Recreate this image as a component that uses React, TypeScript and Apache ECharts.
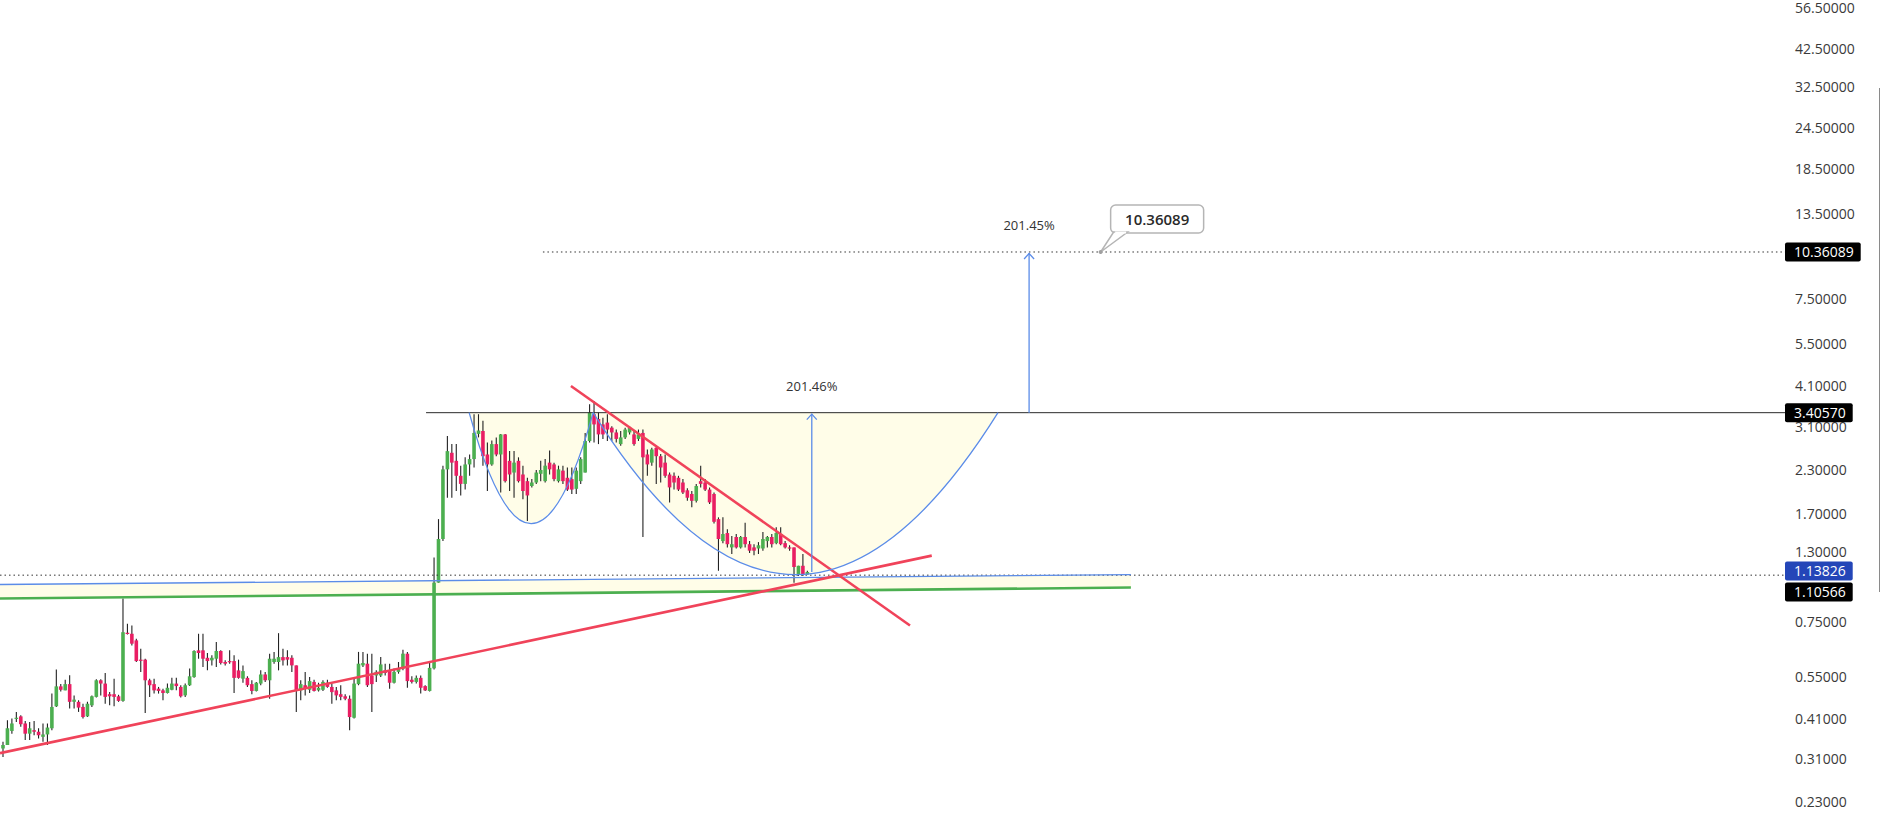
import { useEffect, useRef } from 'react';
import * as echarts from 'echarts';

// ---------- candle data (price units) ----------
const opens = [
  0.333, 0.341, 0.376, 0.410, 0.416, 0.396, 0.369, 0.378, 0.374, 0.361,
  0.367, 0.383, 0.446, 0.512, 0.498, 0.520, 0.460, 0.460, 0.444, 0.416,
  0.449, 0.476, 0.534, 0.522, 0.485, 0.485, 0.478, 0.463, 0.742, 0.737,
  0.704, 0.616, 0.616, 0.534, 0.520, 0.504, 0.498, 0.489, 0.500, 0.522,
  0.510, 0.481, 0.516, 0.546, 0.657, 0.657, 0.624, 0.613, 0.620, 0.654,
  0.606, 0.610, 0.610, 0.572, 0.540, 0.543, 0.520, 0.496, 0.522, 0.556,
  0.534, 0.606, 0.606, 0.627, 0.627, 0.624, 0.592, 0.498, 0.516, 0.500,
  0.528, 0.498, 0.500, 0.525, 0.510, 0.498, 0.485, 0.478, 0.470, 0.412,
  0.520, 0.592, 0.599, 0.552, 0.552, 0.552, 0.572, 0.572, 0.525, 0.566,
  0.579, 0.642, 0.536, 0.528, 0.543, 0.513, 0.496, 0.580, 1.050, 1.420,
  2.300, 2.580, 2.440, 2.200, 2.080, 2.380, 2.470, 2.940, 3.000, 2.550,
  2.380, 2.740, 2.550, 2.930, 2.440, 2.250, 2.440, 2.220, 2.120, 2.050,
  2.100, 2.230, 2.120, 2.410, 2.380, 2.120, 2.280, 2.170, 2.150, 2.010,
  2.120, 2.250, 2.800, 3.370, 3.260, 3.140, 3.180, 3.070, 2.970, 2.740,
  2.870, 2.970, 2.930, 2.840, 2.960, 2.550, 2.410, 2.670, 2.520, 2.410,
  2.220, 2.200, 2.170, 2.100, 1.990, 1.940, 1.850, 2.120, 2.100, 2.000,
  1.940, 1.630, 1.400, 1.480, 1.340, 1.440, 1.340, 1.440, 1.370, 1.340,
  1.330, 1.330, 1.400, 1.440, 1.380, 1.470, 1.380, 1.340, 1.340, 1.110,
  1.180, 1.110,
];
const closes = [
  0.341, 0.383, 0.396, 0.412, 0.394, 0.369, 0.383, 0.374, 0.365, 0.367,
  0.385, 0.444, 0.512, 0.500, 0.520, 0.460, 0.467, 0.442, 0.414, 0.454,
  0.478, 0.534, 0.522, 0.476, 0.478, 0.476, 0.463, 0.745, 0.738, 0.688,
  0.610, 0.613, 0.534, 0.516, 0.498, 0.496, 0.489, 0.507, 0.522, 0.513,
  0.478, 0.516, 0.549, 0.654, 0.645, 0.620, 0.610, 0.624, 0.654, 0.602,
  0.599, 0.605, 0.543, 0.543, 0.569, 0.516, 0.496, 0.525, 0.556, 0.534,
  0.620, 0.620, 0.627, 0.613, 0.616, 0.592, 0.498, 0.520, 0.504, 0.531,
  0.496, 0.507, 0.528, 0.510, 0.492, 0.481, 0.476, 0.470, 0.414, 0.522,
  0.599, 0.602, 0.516, 0.520, 0.566, 0.596, 0.562, 0.525, 0.566, 0.579,
  0.642, 0.531, 0.528, 0.543, 0.507, 0.498, 0.582, 1.050, 1.420, 2.300,
  2.610, 2.410, 2.200, 2.080, 2.380, 2.470, 2.960, 3.010, 2.520, 2.380,
  2.740, 2.550, 2.930, 2.120, 2.220, 2.410, 2.120, 1.980, 1.920, 2.100,
  2.250, 2.290, 2.360, 2.300, 2.150, 2.300, 2.120, 2.000, 2.000, 2.280,
  2.470, 2.800, 3.410, 3.140, 2.930, 2.930, 3.030, 2.970, 2.840, 2.870,
  3.030, 3.070, 2.740, 2.930, 2.500, 2.380, 2.640, 2.520, 2.330, 2.200,
  2.030, 2.100, 2.000, 1.960, 1.890, 1.850, 2.050, 2.080, 2.000, 1.830,
  1.600, 1.420, 1.470, 1.370, 1.370, 1.340, 1.440, 1.370, 1.310, 1.310,
  1.360, 1.420, 1.440, 1.370, 1.480, 1.370, 1.340, 1.330, 1.170, 1.180,
  1.110, 1.130,
];
const lows = [
  0.314, 0.341, 0.369, 0.400, 0.387, 0.353, 0.353, 0.365, 0.357, 0.349,
  0.341, 0.378, 0.444, 0.494, 0.498, 0.439, 0.439, 0.429, 0.410, 0.414,
  0.444, 0.474, 0.481, 0.454, 0.449, 0.446, 0.460, 0.460, 0.733, 0.680,
  0.606, 0.566, 0.426, 0.476, 0.487, 0.487, 0.465, 0.487, 0.498, 0.498,
  0.474, 0.476, 0.513, 0.543, 0.620, 0.585, 0.572, 0.592, 0.585, 0.596,
  0.592, 0.599, 0.489, 0.540, 0.525, 0.510, 0.485, 0.494, 0.516, 0.528,
  0.470, 0.599, 0.572, 0.592, 0.592, 0.566, 0.429, 0.465, 0.481, 0.489,
  0.494, 0.494, 0.496, 0.507, 0.454, 0.465, 0.465, 0.465, 0.378, 0.410,
  0.516, 0.585, 0.510, 0.429, 0.528, 0.546, 0.552, 0.504, 0.522, 0.559,
  0.572, 0.507, 0.522, 0.522, 0.487, 0.496, 0.494, 0.575, 1.050, 1.400,
  1.890, 1.890, 1.980, 1.920, 2.000, 2.200, 2.330, 2.870, 2.360, 1.980,
  2.360, 2.520, 1.960, 2.100, 1.980, 1.890, 2.100, 1.870, 1.610, 2.030,
  2.080, 2.120, 2.100, 2.220, 2.120, 2.100, 2.080, 1.980, 1.940, 1.940,
  2.080, 2.250, 2.770, 2.770, 2.740, 2.840, 2.800, 2.800, 2.770, 2.710,
  2.840, 2.930, 2.710, 2.800, 1.440, 2.200, 2.360, 2.080, 2.100, 2.170,
  1.830, 2.000, 1.980, 1.940, 1.850, 1.770, 1.830, 2.030, 1.980, 1.810,
  1.580, 1.140, 1.380, 1.340, 1.280, 1.330, 1.330, 1.340, 1.290, 1.270,
  1.280, 1.310, 1.340, 1.340, 1.370, 1.360, 1.330, 1.310, 1.050, 1.100,
  1.100, 1.110,
];
const highs = [
  0.349, 0.405, 0.410, 0.429, 0.419, 0.403, 0.400, 0.403, 0.383, 0.396,
  0.396, 0.487, 0.575, 0.520, 0.536, 0.553, 0.481, 0.465, 0.454, 0.460,
  0.481, 0.538, 0.538, 0.562, 0.492, 0.540, 0.483, 0.940, 0.790, 0.780,
  0.712, 0.664, 0.620, 0.540, 0.540, 0.510, 0.504, 0.522, 0.543, 0.543,
  0.516, 0.522, 0.579, 0.657, 0.737, 0.737, 0.645, 0.635, 0.696, 0.657,
  0.613, 0.657, 0.635, 0.616, 0.592, 0.549, 0.534, 0.528, 0.572, 0.566,
  0.642, 0.650, 0.740, 0.664, 0.657, 0.635, 0.592, 0.534, 0.566, 0.546,
  0.536, 0.525, 0.534, 0.536, 0.522, 0.510, 0.516, 0.485, 0.481, 0.543,
  0.650, 0.650, 0.642, 0.642, 0.572, 0.627, 0.599, 0.599, 0.579, 0.606,
  0.660, 0.650, 0.549, 0.552, 0.552, 0.516, 0.610, 1.250, 1.630, 2.360,
  2.900, 2.740, 2.740, 2.360, 2.500, 2.550, 3.370, 3.370, 3.220, 2.770,
  2.810, 2.870, 2.940, 2.940, 2.610, 2.610, 2.500, 2.360, 2.170, 2.150,
  2.290, 2.440, 2.470, 2.620, 2.410, 2.360, 2.360, 2.330, 2.330, 2.330,
  2.500, 2.960, 3.610, 3.690, 3.410, 3.290, 3.370, 3.100, 3.030, 3.000,
  3.070, 3.100, 3.000, 3.030, 3.030, 2.640, 2.670, 2.710, 2.560, 2.550,
  2.250, 2.250, 2.200, 2.150, 2.020, 1.980, 2.080, 2.360, 2.150, 2.030,
  1.960, 1.650, 1.650, 1.520, 1.450, 1.470, 1.450, 1.590, 1.400, 1.370,
  1.390, 1.490, 1.450, 1.470, 1.540, 1.540, 1.400, 1.360, 1.340, 1.180,
  1.280, 1.140,
];

// ---------- price scale ----------
const tickPrices = [56.5, 42.5, 32.5, 24.5, 18.5, 13.5, 7.5, 5.5, 4.1, 3.1, 2.3, 1.7, 1.3, 0.8, 0.55, 0.41, 0.31, 0.23];
const tickLabels = ['56.50000', '42.50000', '32.50000', '24.50000', '18.50000', '13.50000', '7.50000', '5.50000', '4.10000', '3.10000', '2.30000', '1.70000', '1.30000', '0.75000', '0.55000', '0.41000', '0.31000', '0.23000'];
const priceMin = 0.1988;
const priceMax = 58.45;
const barMin = -0.675;
const barMax = 401;

// ---------- drawings (bar index, price) ----------
const resistance = 3.4057;
const resistanceStart = 95.2;
const target = 10.36089;
const targetStart = 121.5;
const support = 1.10566;
const channelLabelPrice = 1.13826;
const channelTop = [[-0.675, 1.036], [253.8, 1.11]];
const channelBottom = [[-0.675, 0.9405], [253.8, 1.0147]];
const risingTrend = [[-0.675, 0.3225], [209.0, 1.266]];
const fallingTrend = [[127.8, 4.095], [204.1, 0.7805]];
const cupStarts = [104.9, 132.8];
const cupEnds = [132.8, 223.9];
const cupBottoms = [1.579, 1.11];
const moveBars = [182.0, 230.9];
const moveFrom = [1.13, 3.4057];
const moveTo = [3.4057, 10.36089];
const moveLabels = ['201.46%', '201.45%'];
const calloutBar = 247.0;
const calloutText = '10.36089';

const GREEN = '#4caf50';
const RED = '#e91e63';
const BLUE = '#5b8ce8';
const FILL = 'rgba(255, 236, 80, 0.13)';
const FONT = '"Open Sans", "Noto Sans", sans-serif';

function buildGraphics(chart: any) {
  const P = (i: number, p: number) => chart.convertToPixel({ gridIndex: 0 }, [i, Math.log(p)]) as number[];
  const g: any[] = [];
  // channel band
  const a = P(channelTop[0][0], channelTop[0][1]);
  const b = P(channelTop[1][0], channelTop[1][1]);
  const c = P(channelBottom[1][0], channelBottom[1][1]);
  const d = P(channelBottom[0][0], channelBottom[0][1]);
  g.push({ type: 'polygon', z: 1, silent: true, shape: { points: [a, b, c, d] }, style: { fill: FILL } });
  // cups
  cupStarts.forEach((s, k) => {
    const p0 = P(s, resistance);
    const p2 = P(cupEnds[k], resistance);
    const pb = P((s + cupEnds[k]) / 2, cupBottoms[k]);
    const shape = { x1: p0[0], y1: p0[1], x2: p2[0], y2: p2[1], cpx1: (p0[0] + p2[0]) / 2, cpy1: p0[1] + 2 * (pb[1] - p0[1]) };
    g.push({ type: 'bezierCurve', z: 1, silent: true, shape, style: { fill: FILL, stroke: 'none' } });
    g.push({ type: 'bezierCurve', z: 20, silent: true, shape, style: { fill: 'none', stroke: BLUE, lineWidth: 1.3 } });
  });
  // measured moves
  moveBars.forEach((m, k) => {
    const pf = P(m, moveFrom[k]);
    const pt = P(m, moveTo[k]);
    g.push({ type: 'line', z: 20, silent: true, shape: { x1: pf[0], y1: pf[1], x2: pt[0], y2: pt[1] + 1 }, style: { stroke: BLUE, lineWidth: 1.3 } });
    g.push({ type: 'polyline', z: 20, silent: true, shape: { points: [[pt[0] - 5, pt[1] + 7], [pt[0], pt[1] + 1.5], [pt[0] + 5, pt[1] + 7]] }, style: { stroke: BLUE, lineWidth: 1.3, fill: 'none' } });
    g.push({ type: 'text', z: 20, silent: true, style: { text: moveLabels[k], x: pt[0], y: pt[1] - 27, align: 'center', verticalAlign: 'middle', fill: '#333', font: '13px ' + FONT } });
  });
  // callout
  const cp = P(calloutBar, target);
  g.push({ type: 'rect', z: 21, silent: true, shape: { x: cp[0] + 10, y: cp[1] - 47, width: 93, height: 28, r: 5 }, style: { fill: '#fff', stroke: '#b5b5b5', lineWidth: 1.5 } });
  g.push({ type: 'polygon', z: 22, silent: true, shape: { points: [[cp[0] + 13, cp[1] - 20], [cp[0] + 27, cp[1] - 20], [cp[0], cp[1]]] }, style: { fill: '#fff', stroke: '#b5b5b5', lineWidth: 1.5 } });
  g.push({ type: 'line', z: 23, silent: true, shape: { x1: cp[0] + 14.5, y1: cp[1] - 19.5, x2: cp[0] + 25.5, y2: cp[1] - 19.5 }, style: { stroke: '#fff', lineWidth: 2 } });
  g.push({ type: 'circle', z: 23, silent: true, shape: { cx: cp[0], cy: cp[1], r: 2 }, style: { fill: '#a0a0a0' } });
  g.push({ type: 'text', z: 24, silent: true, style: { text: calloutText, x: cp[0] + 56.5, y: cp[1] - 33, align: 'center', verticalAlign: 'middle', fill: '#2a2a2a', font: '600 15px ' + FONT } });
  // price-scale labels
  const right = P(barMax, 1)[0];
  const labs = [
    { p: target, t: '10.36089', bg: '#000' },
    { p: resistance, t: '3.40570', bg: '#000' },
    { p: channelLabelPrice, t: '1.13826', bg: '#2446b8' },
    { p: support, t: '1.10566', bg: '#000' },
  ].map((l) => ({ ...l, y: P(0, l.p)[1] }));
  labs.sort((u, v) => u.y - v.y);
  let prev = -1e9;
  labs.forEach((l) => {
    const y = Math.max(l.y, prev + 21);
    prev = y;
    g.push({ type: 'text', z: 30, silent: true, style: { text: l.t, x: right, y, align: 'left', verticalAlign: 'middle', fill: '#fff', backgroundColor: l.bg, padding: [3, 7, 2, 9], borderRadius: 2, font: '14px ' + FONT } });
  });
  g.push({ type: 'line', z: 30, silent: true, shape: { x1: 1879.5, y1: 88, x2: 1879.5, y2: 592 }, style: { stroke: '#8a8a8a', lineWidth: 1 } });
  return g;
}

export default function App() {
  const ref = useRef<HTMLDivElement>(null);
  useEffect(() => {
    if (!ref.current) return;
    const chart = echarts.init(ref.current, null, { renderer: 'svg' });
    const candleData = opens.map((o, i) => [i, Math.log(o), Math.log(closes[i]), Math.log(lows[i]), Math.log(highs[i])]);
    const seg = (pts: number[][]) => pts.map(([i, p]) => [i, Math.log(p)]);
    const line = (data: number[][], color: string, width: number, type: any = 'solid', z = 5) => ({
      type: 'line', data: seg(data), symbol: 'none', silent: true, z,
      lineStyle: { color, width, type }, animation: false,
    });
    const option: any = {
      animation: false,
      backgroundColor: '#ffffff',
      grid: { left: 0, right: 95, top: 0, bottom: 0 },
      xAxis: { type: 'value', min: barMin, max: barMax, show: false },
      yAxis: {
        type: 'value', position: 'right', min: Math.log(priceMin), max: Math.log(priceMax),
        axisLine: { show: false }, axisTick: { show: false }, splitLine: { show: false },
        axisLabel: {
          customValues: tickPrices.map((p) => Math.log(p)),
          formatter: (v: number) => {
            const k = tickPrices.findIndex((p) => Math.abs(Math.log(p) - v) < 1e-6);
            return k >= 0 ? tickLabels[k] : '';
          },
          color: '#3a3a3a', fontSize: 14, fontFamily: FONT, margin: 10,
        },
      },
      series: [
        {
          type: 'custom', z: 3, clip: true,
          encode: { x: 0, y: [1, 2, 3, 4] },
          data: candleData,
          renderItem: (_p: any, api: any) => {
            const x = api.value(0);
            const o = api.value(1), cl = api.value(2), lo = api.value(3), hi = api.value(4);
            const pL = api.coord([x, lo]), pH = api.coord([x, hi]);
            const pO = api.coord([x, o]), pC = api.coord([x, cl]);
            const top = Math.min(pO[1], pC[1]);
            const bot = Math.max(pO[1], pC[1]);
            const col = cl >= o ? GREEN : RED;
            return {
              type: 'group',
              children: [
                { type: 'line', shape: { x1: pL[0], y1: pL[1], x2: pH[0], y2: pH[1] }, style: { stroke: '#222', lineWidth: 1.1 } },
                { type: 'rect', shape: { x: pO[0] - 1.8, y: top, width: 3.6, height: Math.max(bot - top, 1.2) }, style: { fill: col } },
              ],
            };
          },
        },
        line([[resistanceStart, resistance], [barMax, resistance]], '#2b2b2b', 1),
        line([[targetStart, target], [barMax, target]], '#333', 1, [1.5, 3]),
        line([[barMin, support], [barMax, support]], '#333', 1, [1.5, 3]),
        line(channelTop, BLUE, 1.4, 'solid', 6),
        line(channelBottom, GREEN, 2.6, 'solid', 6),
        line(risingTrend, '#f0435a', 2.6, 'solid', 7),
        line(fallingTrend, '#f0435a', 2.6, 'solid', 7),
      ],
    };
    chart.setOption(option);
    chart.setOption({ graphic: buildGraphics(chart) });
    return () => chart.dispose();
  }, []);
  return <div ref={ref} style={{ position: 'fixed', left: 0, top: 0, width: 1880, height: 823, background: '#fff' }} />;
}
